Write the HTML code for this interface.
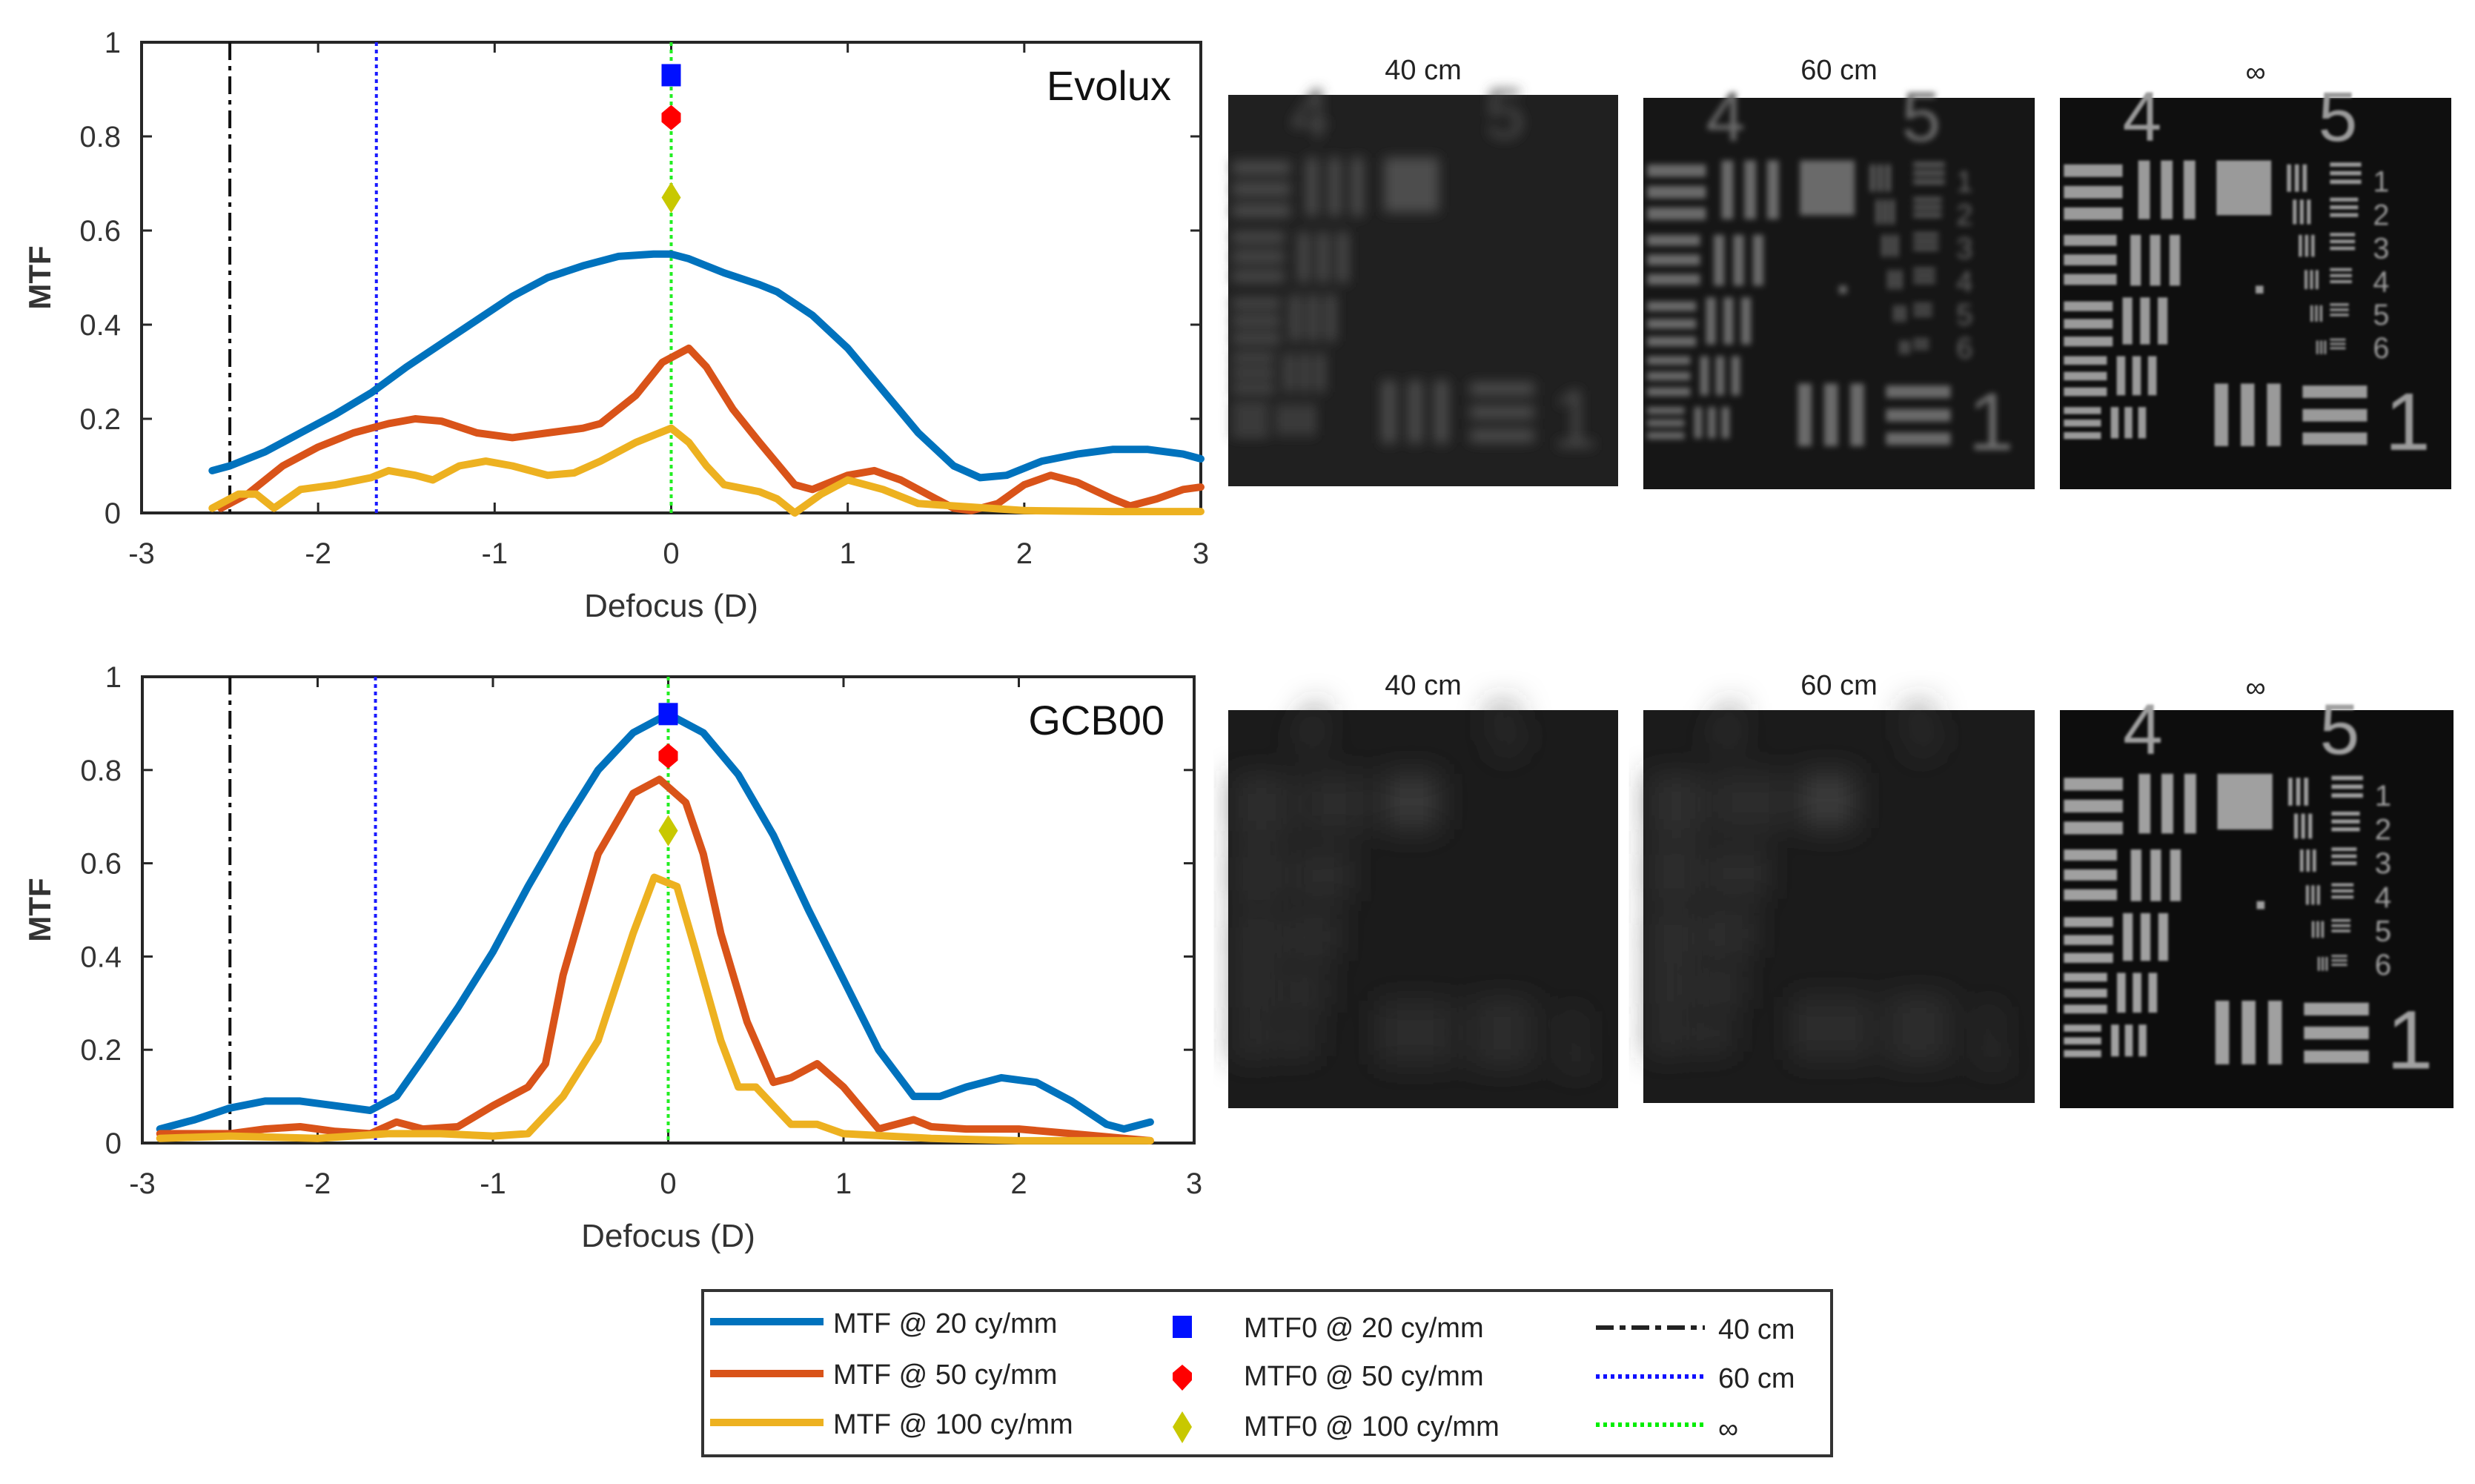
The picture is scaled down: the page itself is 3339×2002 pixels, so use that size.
<!DOCTYPE html>
<html><head><meta charset="utf-8">
<style>
html,body{margin:0;padding:0;background:#fff;}
body{width:3339px;height:1997px;overflow:hidden;font-family:"Liberation Sans",sans-serif;}
svg text{font-family:"Liberation Sans",sans-serif;}
</style></head>
<body>
<svg id="fig" width="3339" height="1997" viewBox="0 0 3339 1997" xmlns="http://www.w3.org/2000/svg">
<defs>
<filter id="blur40" x="-5%" y="-5%" width="110%" height="110%"><feGaussianBlur stdDeviation="8"/></filter>
<filter id="blur60" x="-5%" y="-5%" width="110%" height="110%"><feGaussianBlur stdDeviation="4"/></filter>
<filter id="blurInf" x="-5%" y="-5%" width="110%" height="110%"><feGaussianBlur stdDeviation="1.6"/></filter>
<filter id="blurHeavy" x="-5%" y="-5%" width="110%" height="110%"><feGaussianBlur stdDeviation="20"/></filter>
</defs>
<g id="plots"></g>
<g id="panels"></g>
<g id="legend">
  <rect x="948" y="1741" width="1523" height="223" fill="#fff" stroke="#333" stroke-width="4"/>
  <line x1="958" y1="1783" x2="1111" y2="1783" stroke="#0072BD" stroke-width="10"/>
  <text x="1124" y="1798" font-size="38" fill="#222">MTF @ 20 cy/mm</text>
  <line x1="958" y1="1853" x2="1111" y2="1853" stroke="#D95319" stroke-width="10"/>
  <text x="1124" y="1867" font-size="38" fill="#222">MTF @ 50 cy/mm</text>
  <line x1="958" y1="1919" x2="1111" y2="1919" stroke="#EDB120" stroke-width="10"/>
  <text x="1124" y="1934" font-size="38" fill="#222">MTF @ 100 cy/mm</text>
  <rect x="1582" y="1775" width="26" height="30" fill="#0010ff"/>
  <polygon points="1595,1841 1608,1852 1608,1862 1595,1876 1582,1862 1582,1852" fill="#ff0000"/>
  <polygon points="1595,1904 1608,1925 1595,1947 1582,1925" fill="#c8c800"/>
  <text x="1678" y="1804" font-size="38" fill="#222">MTF0 @ 20 cy/mm</text>
  <text x="1678" y="1869" font-size="38" fill="#222">MTF0 @ 50 cy/mm</text>
  <text x="1678" y="1937" font-size="38" fill="#222">MTF0 @ 100 cy/mm</text>
  <line x1="2153" y1="1791" x2="2300" y2="1791" stroke="#222" stroke-width="6" stroke-dasharray="24,8,8,8"/>
  <text x="2318" y="1806" font-size="38" fill="#222">40 cm</text>
  <line x1="2153" y1="1857" x2="2300" y2="1857" stroke="#1010ff" stroke-width="6" stroke-dasharray="5,5"/>
  <text x="2318" y="1872" font-size="38" fill="#222">60 cm</text>
  <line x1="2153" y1="1922" x2="2300" y2="1922" stroke="#00ee00" stroke-width="6" stroke-dasharray="5,5"/>
  <text x="2318" y="1940" font-size="38" fill="#222">∞</text>
</g>
</svg>
<script>
// ---- data (Evolux, top) ----
const xTicks = [-3,-2,-1,0,1,2,3];
const yTicks = [0,0.2,0.4,0.6,0.8,1];
const yTickLabels = ["0","0.2","0.4","0.6","0.8","1"];
const refLinesX = [-2.5,-1.67,0];
const evoX20 = [-2.6,-2.5,-2.3,-2.1,-1.9,-1.7,-1.5,-1.3,-1.1,-0.9,-0.7,-0.5,-0.3,-0.1,0,0.1,0.3,0.5,0.6,0.8,1.0,1.2,1.4,1.6,1.75,1.9,2.1,2.3,2.5,2.7,2.9,3.0];
const evoY20 = [0.09,0.10,0.13,0.17,0.21,0.255,0.31,0.36,0.41,0.46,0.50,0.525,0.545,0.55,0.55,0.54,0.51,0.485,0.47,0.42,0.35,0.26,0.17,0.10,0.075,0.08,0.11,0.125,0.135,0.135,0.125,0.115];
const evoX50 = [-2.55,-2.4,-2.2,-2.0,-1.8,-1.6,-1.45,-1.3,-1.1,-0.9,-0.7,-0.5,-0.4,-0.2,-0.05,0.1,0.2,0.35,0.5,0.7,0.8,1.0,1.15,1.3,1.5,1.6,1.7,1.85,2.0,2.15,2.3,2.5,2.6,2.75,2.9,3.0];
const evoY50 = [0.01,0.04,0.10,0.14,0.17,0.19,0.20,0.195,0.17,0.16,0.17,0.18,0.19,0.25,0.32,0.35,0.31,0.22,0.15,0.06,0.05,0.08,0.09,0.07,0.03,0.01,0.005,0.02,0.06,0.08,0.065,0.03,0.015,0.03,0.05,0.055];
const evoX100 = [-2.6,-2.45,-2.35,-2.25,-2.1,-1.9,-1.7,-1.6,-1.45,-1.35,-1.2,-1.05,-0.9,-0.7,-0.55,-0.4,-0.2,0,0.1,0.2,0.3,0.5,0.6,0.7,0.85,1.0,1.2,1.4,1.6,2.0,2.5,3.0];
const evoY100 = [0.01,0.04,0.04,0.01,0.05,0.06,0.075,0.09,0.08,0.07,0.10,0.11,0.10,0.08,0.085,0.11,0.15,0.18,0.15,0.10,0.06,0.045,0.03,0.0,0.04,0.07,0.05,0.02,0.015,0.005,0.003,0.003];
const evoMTF0 = [0.93,0.84,0.67];
// ---- data (GCB00, bottom) ----
const gcbX20 = [-2.9,-2.7,-2.5,-2.3,-2.1,-1.9,-1.7,-1.55,-1.4,-1.2,-1.0,-0.8,-0.6,-0.4,-0.2,0,0.2,0.4,0.6,0.8,1.0,1.2,1.4,1.55,1.7,1.9,2.1,2.3,2.5,2.6,2.75];
const gcbY20 = [0.03,0.05,0.075,0.09,0.09,0.08,0.07,0.10,0.18,0.29,0.41,0.55,0.68,0.80,0.88,0.92,0.88,0.79,0.66,0.50,0.35,0.20,0.10,0.10,0.12,0.14,0.13,0.09,0.04,0.03,0.045];
const gcbX50 = [-2.9,-2.5,-2.3,-2.1,-1.9,-1.7,-1.55,-1.4,-1.2,-1.0,-0.8,-0.7,-0.6,-0.4,-0.2,-0.05,0.1,0.2,0.3,0.45,0.6,0.7,0.85,1.0,1.2,1.4,1.5,1.7,2.0,2.3,2.6,2.75];
const gcbY50 = [0.02,0.02,0.03,0.035,0.025,0.02,0.045,0.03,0.035,0.08,0.12,0.17,0.36,0.62,0.75,0.78,0.73,0.62,0.45,0.26,0.13,0.14,0.17,0.12,0.03,0.05,0.035,0.03,0.03,0.02,0.01,0.005];
const gcbX100 = [-2.9,-2.5,-2.0,-1.6,-1.3,-1.0,-0.8,-0.6,-0.4,-0.2,-0.08,0.05,0.15,0.3,0.4,0.5,0.6,0.7,0.85,1.0,1.5,2.0,2.75];
const gcbY100 = [0.01,0.015,0.01,0.02,0.02,0.015,0.02,0.10,0.22,0.45,0.57,0.55,0.42,0.22,0.12,0.12,0.08,0.04,0.04,0.02,0.01,0.005,0.005];
const gcbMTF0 = [0.92,0.83,0.67];

const NS="http://www.w3.org/2000/svg";
function mk(tag, attrs, parent){const e=document.createElementNS(NS,tag);for(const k in attrs)e.setAttribute(k,attrs[k]);parent.appendChild(e);return e;}
const plots=document.getElementById('plots');

function drawPlot(cfg){
  const g=mk('g',{},plots);
  
  
  const xs=v=>cfg.x0+(v+3)/6*(cfg.x1-cfg.x0);
  const ys=v=>cfg.y0-(v)*(cfg.y0-cfg.y1);
  const box=mk('rect',{x:cfg.x0,y:cfg.y1,width:cfg.x1-cfg.x0,height:cfg.y0-cfg.y1,fill:'none',stroke:'#262626','stroke-width':4},g);
  
  
  xTicks.forEach(t=>{
    mk('line',{x1:xs(t),x2:xs(t),y1:cfg.y0,y2:cfg.y0-14,stroke:'#262626','stroke-width':3},g);
    mk('line',{x1:xs(t),x2:xs(t),y1:cfg.y1,y2:cfg.y1+14,stroke:'#262626','stroke-width':3},g);
    const tx=mk('text',{x:xs(t),y:cfg.y0+68,'font-size':40,fill:'#333','text-anchor':'middle'},g);
    tx.textContent=String(t);
    
    
  });
  yTicks.forEach((t,i)=>{
    mk('line',{x1:cfg.x0,x2:cfg.x0+14,y1:ys(t),y2:ys(t),stroke:'#262626','stroke-width':3},g);
    mk('line',{x1:cfg.x1,x2:cfg.x1-14,y1:ys(t),y2:ys(t),stroke:'#262626','stroke-width':3},g);
    const tx=mk('text',{x:cfg.x0-28,y:ys(t)+14,'font-size':40,fill:'#333','text-anchor':'end'},g);
    tx.textContent=yTickLabels[i];
    
    
  });
  const refStyles=[{s:'#111',d:'24,8,6,8',n:'ref-line-40cm'},{s:'#1a1aff',d:'5,5',n:'ref-line-60cm'},{s:'#22ee22',d:'5,5',n:'ref-line-inf'}];
  refLinesX.forEach((v,i)=>{
    const l=mk('line',{x1:xs(v),x2:xs(v),y1:cfg.y1,y2:cfg.y0,stroke:refStyles[i].s,'stroke-width':4,'stroke-dasharray':refStyles[i].d},g);
    
    
  });
  const cols=['#0072BD','#D95319','#EDB120'];
  const names=['mtf-20-line','mtf-50-line','mtf-100-line'];
  cfg.series.forEach((s,i)=>{
    const d=s[0].map((x,j)=>(j?'L':'M')+xs(x).toFixed(1)+','+ys(s[1][j]).toFixed(1)).join(' ');
    const p=mk('path',{d:d,fill:'none',stroke:cols[i],'stroke-width':10,'stroke-linejoin':'round','stroke-linecap':'round'},g);
    
    
  });
  const mx=xs(0);
  const m1=mk('rect',{x:mx-13,y:ys(cfg.mtf0[0])-15,width:26,height:30,fill:'#0010ff'},g);
  
  
  const y2=ys(cfg.mtf0[1]);
  const m2=mk('polygon',{points:`${mx},${y2-17} ${mx+13},${y2-6} ${mx+13},${y2+6} ${mx},${y2+17} ${mx-13},${y2+6} ${mx-13},${y2-6}`,fill:'#ff0000'},g);
  
  
  const y3=ys(cfg.mtf0[2]);
  const m3=mk('polygon',{points:`${mx},${y3-21} ${mx+13},${y3} ${mx},${y3+21} ${mx-13},${y3}`,fill:'#c8c800'},g);
  
  
  const t=mk('text',{x:cfg.x1-40,y:cfg.y1+78,'font-size':56,fill:'#111','text-anchor':'end'},g);
  t.textContent=cfg.title;
  
  
  const yl=mk('text',{x:0,y:0,'font-size':42,'font-weight':'bold',fill:'#333','text-anchor':'middle',transform:`translate(68,${(cfg.y0+cfg.y1)/2}) rotate(-90)`},g);
  yl.textContent='MTF';
  
  
  const xl=mk('text',{x:(cfg.x0+cfg.x1)/2,y:cfg.y0+140,'font-size':44,fill:'#333','text-anchor':'middle'},g);
  xl.textContent='Defocus (D)';
  
  
}
drawPlot({name:'evolux-plot',title:'Evolux',x0:191,x1:1620,y0:692,y1:57,mtf0:evoMTF0,
  series:[[evoX20,evoY20],[evoX50,evoY50],[evoX100,evoY100]]});
drawPlot({name:'gcb00-plot',title:'GCB00',x0:192,x1:1611,y0:1542,y1:913,mtf0:gcbMTF0,
  series:[[gcbX20,gcbY20],[gcbX50,gcbY50],[gcbX100,gcbY100]]});

const panelsG=document.getElementById('panels');
function drawTarget(px,py,w,h,filt,bar,bg,showSmall,name){
  const g=mk('g',{},panelsG);
  
  
  mk('rect',{x:px,y:py,width:w,height:h,fill:bg},g);
  const c=mk('g',{filter:`url(#${filt})`},g);
  const X=v=>px+v*w, Y=v=>py+v*h;
  const R=(x,y,ww,hh)=>mk('rect',{x:X(x),y:Y(y),width:ww*w,height:hh*h,fill:bar},c);
  const lg=[[0.17,0.15,0.032,0.055],[0.35,0.135,0.028,0.05],[0.52,0.125,0.025,0.045],[0.66,0.11,0.022,0.04],[0.79,0.095,0.018,0.032]];
  lg.forEach(a=>{for(let k=0;k<3;k++)R(0.01,a[0]+k*a[3],a[1],a[2]);});
  const vg=[[0.20,0.16,0.15,0.03,0.058],[0.18,0.35,0.13,0.027,0.05],[0.16,0.51,0.12,0.025,0.045],[0.145,0.66,0.10,0.022,0.04],[0.13,0.79,0.08,0.02,0.035]];
  vg.forEach(a=>{for(let k=0;k<3;k++)R(a[0]+k*a[4],a[1],a[3],a[2]);});
  R(0.40,0.16,0.14,0.14);
  for(let k=0;k<3;k++)R(0.395+k*0.067,0.73,0.035,0.16);
  for(let k=0;k<3;k++)R(0.62,0.735+k*0.06,0.165,0.032);
  if(showSmall){
    for(let r=0;r<6;r++){
      const s=1-r*0.1;
      for(let k=0;k<3;k++)R(0.58+r*0.015+k*0.02*s,0.17+r*0.09,0.011*s,0.07*s);
      for(let k=0;k<3;k++)R(0.69,0.165+r*0.09+k*0.022*s,0.08*s,0.011*s);
    }
    R(0.5,0.48,0.02,0.02);
  }
  const fs=h*0.18;
  const n4=mk('text',{x:X(0.16),y:Y(0.11),'font-size':fs,fill:bar},c); n4.textContent='4';
  const n5=mk('text',{x:X(0.66),y:Y(0.11),'font-size':fs,fill:bar},c); n5.textContent='5';
  const n1=mk('text',{x:X(0.83),y:Y(0.9),'font-size':h*0.21,fill:bar},c); n1.textContent='1';
  if(showSmall){
    ['1','2','3','4','5','6'].forEach((s,i)=>{const t=mk('text',{x:X(0.8),y:Y(0.24+i*0.085),'font-size':h*0.075,fill:bar},c);t.textContent=s;});
  }
}
function title(x,y,s){const t=mk('text',{x:x,y:y,'font-size':38,fill:'#222','text-anchor':'middle'},panelsG);t.textContent=s;
  
  }
title(1920,107,'40 cm'); title(2481,107,'60 cm'); title(3043,110,'∞');
title(1920,937,'40 cm'); title(2481,937,'60 cm'); title(3043,940,'∞');
drawTarget(1657,128,526,528,'blur40','#4e4e4e','#202020',false,'evolux-40cm-image');
drawTarget(2217,132,528,528,'blur60','#6a6a6a','#161616',true,'evolux-60cm-image');
drawTarget(2779,132,528,528,'blurInf','#9a9a9a','#0f0f0f',true,'evolux-inf-image');
drawTarget(1657,958,526,537,'blurHeavy','#3a3a3a','#1b1b1b',false,'gcb00-40cm-image');
drawTarget(2217,958,528,530,'blurHeavy','#3c3c3c','#1b1b1b',false,'gcb00-60cm-image');
drawTarget(2779,958,531,537,'blurInf','#a0a0a0','#0d0d0d',true,'gcb00-inf-image');
</script>
</body></html>
